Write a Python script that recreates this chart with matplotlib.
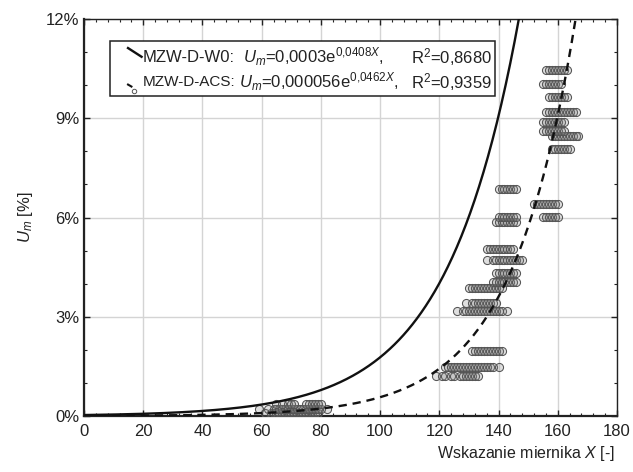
import numpy as np
import matplotlib
matplotlib.use('Agg')
import matplotlib.pyplot as plt
from matplotlib.patches import Rectangle
from matplotlib.lines import Line2D

plt.rcParams['font.family'] = 'Liberation Sans'
plt.rcParams['mathtext.fontset'] = 'custom'
plt.rcParams['mathtext.rm'] = 'Liberation Sans'
plt.rcParams['mathtext.it'] = 'Liberation Sans:italic'

# measured moisture levels [%] and meter readings X for each level
um_levels = [0.09, 0.21, 0.36, 1.21, 1.48, 1.97, 3.17, 3.42, 3.87, 4.05,
             4.32, 4.72, 5.05, 5.87, 6.02, 6.40, 6.86, 8.07, 8.46, 8.62,
             8.89, 9.19, 9.64, 10.04, 10.46]
x_rows = [
    [61, 63, 64, 65, 66, 67, 68, 69, 70, 71, 72, 73, 74, 75, 76, 77, 78, 79],
    [59, 62, 64, 65, 66, 67, 68, 69, 70, 71, 72, 73, 74, 75, 76, 77, 78, 79, 80, 82],
    [65, 67, 69, 70, 71, 75, 76, 77, 78, 79, 80],
    [119, 121, 122, 124, 125, 127, 128, 129, 130, 131, 132, 133],
    [122, 123, 124, 125, 126, 127, 128, 129, 130, 131, 132, 133, 134, 135, 136, 137, 138, 140],
    [131, 132, 133, 134, 135, 136, 137, 138, 139, 140, 141],
    [126, 128, 129, 130, 131, 132, 133, 134, 135, 136, 137, 138, 139, 140, 141, 143],
    [129, 131, 132, 133, 134, 135, 136, 137, 138, 139],
    [130, 131, 132, 133, 134, 135, 136, 137, 138, 139, 140, 141],
    [138, 139, 140, 141, 142, 143, 144, 145, 146],
    [139, 140, 141, 142, 143, 144, 145, 146],
    [136, 138, 139, 140, 141, 142, 143, 144, 145, 146, 147, 148],
    [136, 137, 138, 139, 140, 141, 142, 143, 144, 145],
    [139, 140, 141, 142, 143, 144, 145, 146],
    [140, 141, 142, 143, 144, 145, 146, 155, 156, 157, 158, 159, 160],
    [152, 153, 154, 155, 156, 157, 158, 159, 160],
    [140, 141, 142, 143, 144, 145, 146],
    [158, 159, 160, 161, 162, 163, 164],
    [158, 159, 160, 161, 162, 163, 164, 165, 166, 167],
    [155, 156, 157, 158, 159, 160, 161, 162],
    [155, 156, 157, 158, 159, 160, 161, 162],
    [156, 157, 158, 159, 160, 161, 162, 163, 164, 165, 166],
    [157, 158, 159, 160, 161, 162, 163],
    [155, 156, 157, 158, 159, 160, 161],
    [156, 157, 158, 159, 160, 161, 162, 163],
]

# fitted curves  Um = a * exp(b * X)  (as fraction)
fit_w0 = (0.0003, 0.0408)
fit_acs = (0.000056, 0.0462)

x_pts = np.concatenate([np.array(r, float) for r in x_rows])
y_pts = np.concatenate([np.full(len(r), u) for r, u in zip(x_rows, um_levels)])

fig = plt.figure(figsize=(6.33, 4.72), dpi=100)
ax = fig.add_axes([0.1327, 0.1186, 0.842, 0.841])

ax.scatter(x_pts, y_pts, s=34, facecolors=(0.5, 0.5, 0.5, 0.25),
           edgecolors='#555555', linewidths=0.75, zorder=3)

xx = np.linspace(0, 180, 600)
ax.plot(xx, 100 * fit_w0[0] * np.exp(fit_w0[1] * xx), color='#111111', lw=1.7, zorder=4)
ax.plot(xx, 100 * fit_acs[0] * np.exp(fit_acs[1] * xx), color='#111111', lw=1.7,
        dashes=(3.5, 2.5), zorder=4)

ax.set_xlim(0, 180)
ax.set_ylim(0, 12)
ax.set_xticks(np.arange(0, 181, 20))
ax.set_xticks(np.arange(0, 181, 4), minor=True)
ax.set_yticks(np.arange(0, 12.1, 3))
ax.set_yticks(np.arange(0, 12.1, 1), minor=True)
ax.set_yticklabels(['%d%%' % v for v in range(0, 13, 3)])
ax.tick_params(which='both', direction='in', top=True, right=True,
               labelsize=12, colors='#222222')
ax.tick_params(which='major', length=4, width=1)
ax.tick_params(which='minor', length=2.5, width=0.8)
ax.tick_params(axis='x', pad=6)
ax.grid(True, which='major', color='#d4d4d4', lw=1)
ax.set_axisbelow(True)
for side in ['left', 'bottom']:
    ax.spines[side].set_linewidth(1.6)
for side in ['top', 'right']:
    ax.spines[side].set_linewidth(1.0)
for sp in ax.spines.values():
    sp.set_color('#222222')

ax.set_ylabel(r'$U_m$ [%]', fontsize=12, color='#222222', labelpad=8)
fig.text(0.972, 0.03, r'Wskazanie miernika $X$ [-]', ha='right', va='baseline',
         fontsize=11.5, color='#222222')

# legend box
ax.add_patch(Rectangle((0.0488, 0.805), 0.722, 0.140, transform=ax.transAxes,
                       facecolor='white', edgecolor='#222222', lw=1.1, zorder=5))
ax.add_line(Line2D([0.0826, 0.108], [0.927, 0.905], transform=ax.transAxes,
                   color='#111111', lw=1.7, zorder=6))
ax.add_line(Line2D([0.0826, 0.089], [0.835, 0.830], transform=ax.transAxes,
                   color='#111111', lw=1.5, zorder=6))
ax.plot([0.094], [0.820], 'o', transform=ax.transAxes, ms=3.2, mfc='white',
        mec='#555555', mew=0.7, zorder=6)

tk = dict(transform=ax.transAxes, fontsize=12, color='#222222', va='center', zorder=7)
ax.text(0.110, 0.904, 'MZW-D-W0:', **tk)
ax.text(0.298, 0.904, r'$U_m$=0,0003e$^{0{,}0408X}$,', **tk)
ax.text(0.613, 0.904, r'R$^2$=0,8680', **tk)
ax.text(0.110, 0.841, 'MZW-D-ACS:', **dict(tk, fontsize=11))
ax.text(0.291, 0.841, r'$U_m$=0,000056e$^{0{,}0462X}$,', **tk)
ax.text(0.613, 0.841, r'R$^2$=0,9359', **tk)

fig.savefig('out.png', dpi=100)
